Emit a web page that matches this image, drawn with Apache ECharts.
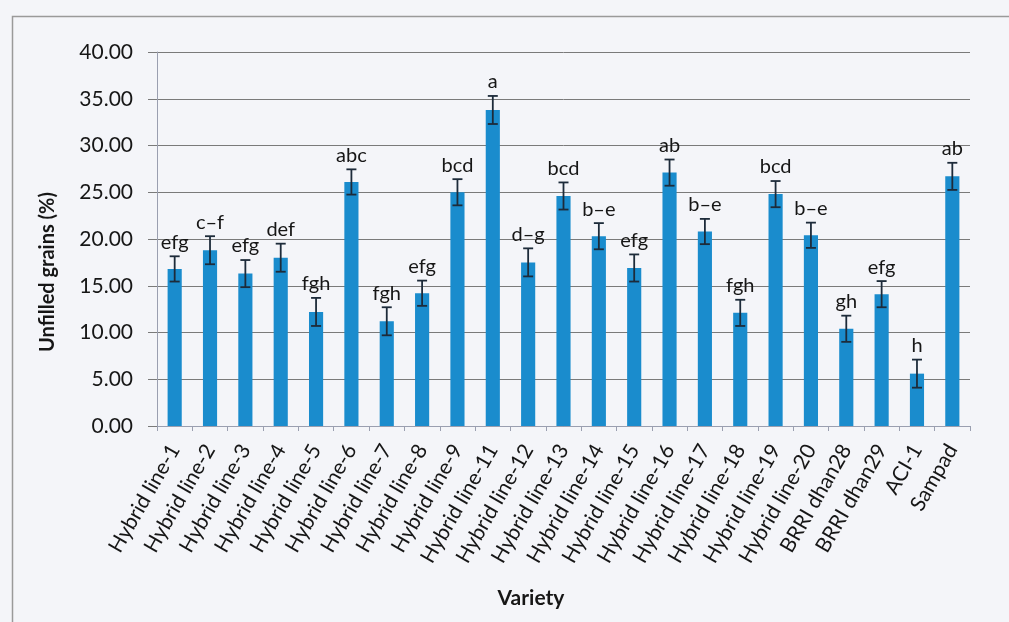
<!DOCTYPE html>
<html>
<head>
<meta charset="utf-8">
<script src="https://cdn.jsdelivr.net/npm/echarts@6/dist/echarts.min.js"></script>
<style>
  html, body { margin: 0; padding: 0; background: #f4f5f9; }
  #chart { width: 1009px; height: 622px; }
</style>
</head>
<body>
<div id="chart"></div>
<script>
// Varieties on the x axis
const varieties = [
  'Hybrid line-1', 'Hybrid line-2', 'Hybrid line-3', 'Hybrid line-4', 'Hybrid line-5',
  'Hybrid line-6', 'Hybrid line-7', 'Hybrid line-8', 'Hybrid line-9', 'Hybrid line-11',
  'Hybrid line-12', 'Hybrid line-13', 'Hybrid line-14', 'Hybrid line-15', 'Hybrid line-16',
  'Hybrid line-17', 'Hybrid line-18', 'Hybrid line-19', 'Hybrid line-20', 'BRRI dhan28',
  'BRRI dhan29', 'ACI-1', 'Sampad'
];
// Mean unfilled grains (%)
const unfilled = [
  16.8, 18.8, 16.3, 18.0, 12.2, 26.1, 11.2, 14.2, 25.0, 33.8,
  17.5, 24.6, 20.3, 16.9, 27.1, 20.8, 12.1, 24.8, 20.4, 10.4,
  14.1, 5.6, 26.7
];
// Standard error for each mean
const stdErr = [
  1.35, 1.5, 1.45, 1.5, 1.5, 1.35, 1.5, 1.35, 1.4, 1.5,
  1.5, 1.45, 1.4, 1.45, 1.4, 1.35, 1.4, 1.4, 1.35, 1.4,
  1.4, 1.5, 1.45
];
// Significance letters
const letters = [
  'efg', 'c\u2013f', 'efg', 'def', 'fgh', 'abc', 'fgh', 'efg', 'bcd', 'a',
  'd\u2013g', 'bcd', 'b\u2013e', 'efg', 'ab', 'b\u2013e', 'fgh', 'bcd', 'b\u2013e', 'gh',
  'efg', 'h', 'ab'
];
// Y axis range and step
const yMin = 0, yMax = 40, yStep = 5;

const font = 'Lato, "Open Sans", sans-serif';
const textColor = '#161616';
const barColor = '#1a8ccd';
const errColor = '#1d2b3a';

const errData = unfilled.map((v, i) => [i, v, stdErr[i]]);

const chart = echarts.init(document.getElementById('chart'));
chart.setOption({
  backgroundColor: '#f4f5f9',
  animation: false,
  grid: { left: 157, right: 39, top: 52, bottom: 196 },
  xAxis: {
    type: 'category',
    data: varieties,
    axisLine: { lineStyle: { color: '#9a9fb0', width: 1 } },
    axisTick: { show: true, length: 5, lineStyle: { color: '#9a9fb0' } },
    axisLabel: {
      interval: 0, rotate: 60, margin: 20,
      color: textColor, fontFamily: font, fontSize: 21
    }
  },
  yAxis: {
    type: 'value',
    min: yMin, max: yMax, interval: yStep,
    axisLine: { show: true, lineStyle: { color: '#9a9fb0' } },
    axisTick: { show: true, length: 9, lineStyle: { color: '#7a7a7a' } },
    splitLine: { lineStyle: { color: '#7a7a7a', width: 1 } },
    axisLabel: {
      color: textColor, fontFamily: font, fontSize: 21, margin: 24,
      formatter: v => v.toFixed(2)
    }
  },
  series: [
    {
      type: 'bar',
      data: unfilled,
      barWidth: '40%',
      itemStyle: { color: barColor },
      z: 2
    },
    {
      type: 'custom',
      data: errData,
      z: 5,
      renderItem: (params, api) => {
        const i = api.value(0), v = api.value(1), e = api.value(2);
        const top = api.coord([i, v + e]);
        const bot = api.coord([i, v - e]);
        const cap = 5;
        const style = { stroke: errColor, lineWidth: 1.8 };
        return {
          type: 'group',
          children: [
            { type: 'line', shape: { x1: top[0], y1: top[1], x2: bot[0], y2: bot[1] }, style },
            { type: 'line', shape: { x1: top[0] - cap, y1: top[1], x2: top[0] + cap, y2: top[1] }, style },
            { type: 'line', shape: { x1: bot[0] - cap, y1: bot[1], x2: bot[0] + cap, y2: bot[1] }, style },
            {
              type: 'text',
              x: top[0], y: top[1] - 4,
              style: {
                text: letters[params.dataIndex],
                align: 'center', verticalAlign: 'bottom',
                fill: textColor, font: '20px ' + font
              }
            }
          ]
        };
      }
    }
  ],
  graphic: [
    {
      type: 'rect', left: 10, top: 14, z: -1,
      shape: { width: 1010, height: 640 },
      style: { fill: 'none', stroke: '#9a9a9a', lineWidth: 1.5 }
    },
    {
      type: 'text', x: 48, y: 272, rotation: Math.PI / 2,
      style: {
        text: 'Unfilled grains (%)', align: 'center', verticalAlign: 'middle',
        fill: textColor, font: 'bold 20px ' + font
      }
    },
    {
      type: 'text', x: 531, y: 598,
      style: {
        text: 'Variety', align: 'center', verticalAlign: 'middle',
        fill: textColor, font: 'bold 21px ' + font
      }
    }
  ]
});
</script>
</body>
</html>
